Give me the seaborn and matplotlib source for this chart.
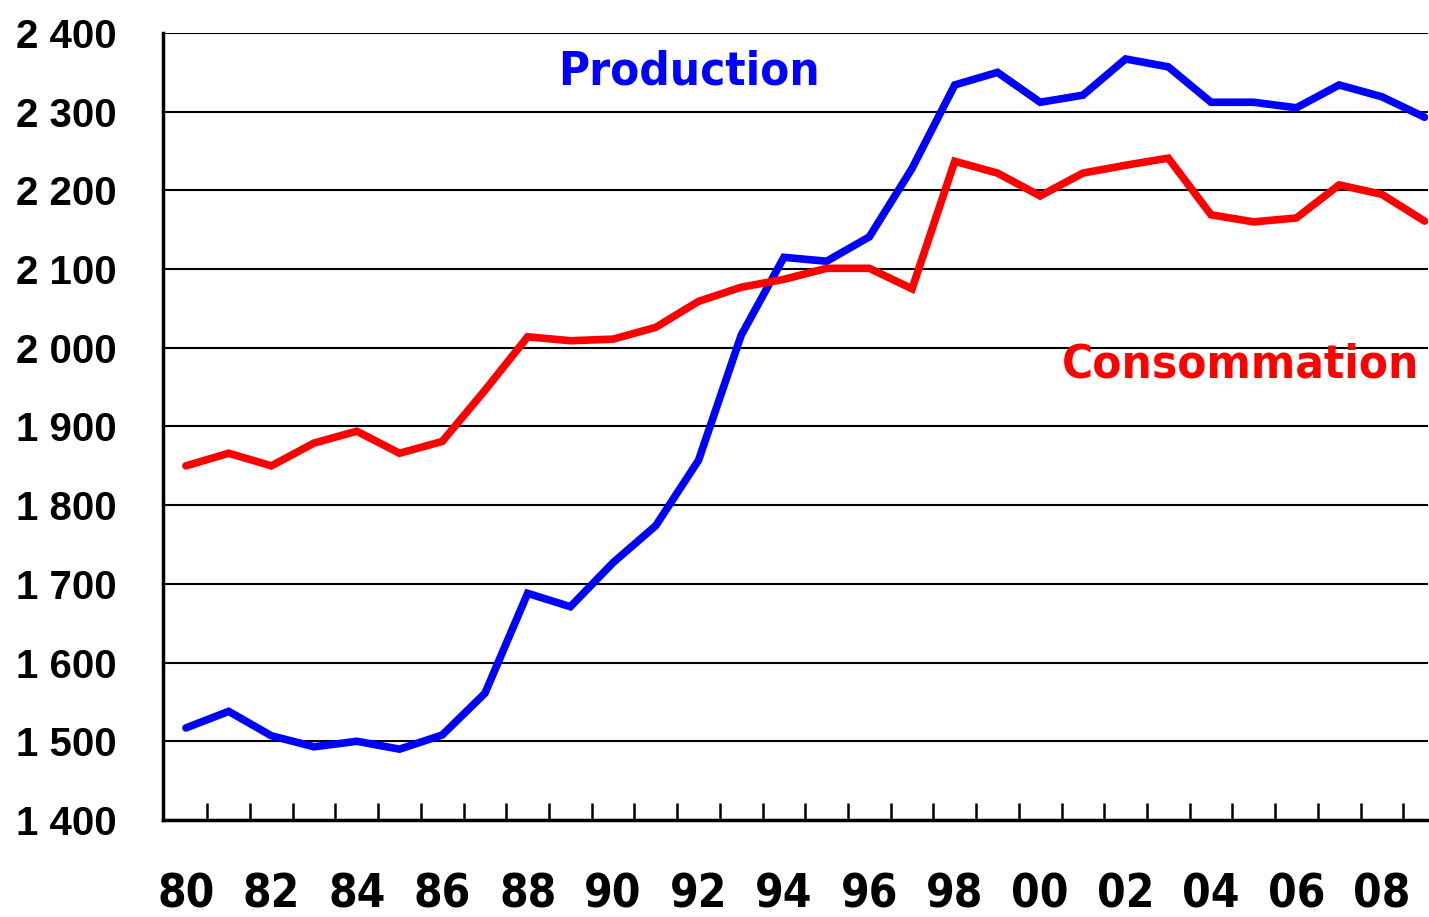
import numpy as np
import pandas as pd
import matplotlib
matplotlib.use("Agg")
import matplotlib.pyplot as plt
import seaborn as sns
from matplotlib import font_manager
from matplotlib.ticker import FixedLocator, FuncFormatter

years = list(range(1980, 2010))
production = [1517, 1538, 1507, 1493, 1500, 1490, 1508, 1561, 1688, 1671,
              1727, 1774, 1857, 2016, 2115, 2110, 2141, 2228, 2334, 2350,
              2312, 2321, 2367, 2357, 2312, 2312, 2305, 2334, 2319, 2293]
consommation = [1850, 1866, 1850, 1879, 1894, 1866, 1881, 1946, 2014, 2009,
                2011, 2026, 2059, 2077, 2087, 2101, 2101, 2075, 2237, 2222,
                2193, 2222, 2232, 2241, 2169, 2160, 2165, 2207, 2195, 2161]
series_names = ["Production", "Consommation"]
series_colors = ["#0000FF", "#FF0000"]
y_ticks = list(range(1400, 2401, 100))

df = pd.DataFrame({
    "annee": years * 2,
    "valeur": production + consommation,
    "serie": [series_names[0]] * len(years) + [series_names[1]] * len(years),
})

sns.set_style("white")

# pick a condensed bold face if one is installed
names = {f.name for f in font_manager.fontManager.ttflist}
if "Liberation Sans Narrow" in names:
    narrow = dict(family=["Liberation Sans Narrow"], fontweight="bold")
elif "DejaVu Sans Condensed" in names:
    narrow = dict(family=["DejaVu Sans Condensed"], fontweight="bold")
else:
    narrow = dict(family=["DejaVu Sans"], fontweight="bold", fontstretch="condensed")

fig = plt.figure(figsize=(14.29, 9.17), dpi=100)
ax = fig.add_axes([0.114, 0.1058, 0.885, 0.8582])

sns.lineplot(data=df, x="annee", y="valeur", hue="serie",
             palette=dict(zip(series_names, series_colors)),
             linewidth=5.5, ax=ax, legend=False, sort=False)
for ln in ax.lines:
    ln.set_solid_joinstyle("miter")
    ln.set_solid_capstyle("round")

# last year sits right against the right edge, as in the original
ax.set_xlim(years[0] - 0.54, years[-1] + 0.07)
ax.set_ylim(y_ticks[0], y_ticks[-1])

# horizontal grid
ax.set_yticks(y_ticks)
ax.yaxis.grid(True, color="black", linewidth=1.5)
ax.set_axisbelow(True)
ax.yaxis.set_major_formatter(FuncFormatter(
    lambda v, p: f"{int(v):,}".replace(",", " ")))
ax.tick_params(axis="y", length=0, pad=33)
for lab in ax.get_yticklabels():
    lab.set_family(["Liberation Sans", "DejaVu Sans"])
    lab.set_fontweight("bold")
    lab.set_fontsize(29)
    lab.set_color("black")

# x axis: labels on even years, tick marks between years
ax.xaxis.set_major_locator(FixedLocator(years[::2]))
ax.xaxis.set_major_formatter(FuncFormatter(lambda v, p: f"{int(v) % 100:02d}"))
ax.xaxis.set_minor_locator(FixedLocator([y + 0.5 for y in years[:-1]]))
ax.tick_params(axis="x", which="major", length=0, pad=38)
ax.tick_params(axis="x", which="minor", direction="in", length=12,
               width=1.8, color="black", bottom=True)
for lab in ax.get_xticklabels():
    lab.set(**narrow)
    lab.set_fontsize(33)
    lab.set_color("black")

ax.set_xlabel("")
ax.set_ylabel("")

for side in ["top", "right"]:
    ax.spines[side].set_visible(False)
for side in ["left", "bottom"]:
    ax.spines[side].set_color("black")
    ax.spines[side].set_linewidth(2.5)

ax.text(0.416, 0.95, series_names[0], transform=ax.transAxes,
        color=series_colors[0], fontsize=34, ha="center", va="center", **narrow)
ax.text(0.852, 0.578, series_names[1], transform=ax.transAxes,
        color=series_colors[1], fontsize=34, ha="center", va="center", **narrow)

fig.savefig("out.png", dpi=100, facecolor="white")
